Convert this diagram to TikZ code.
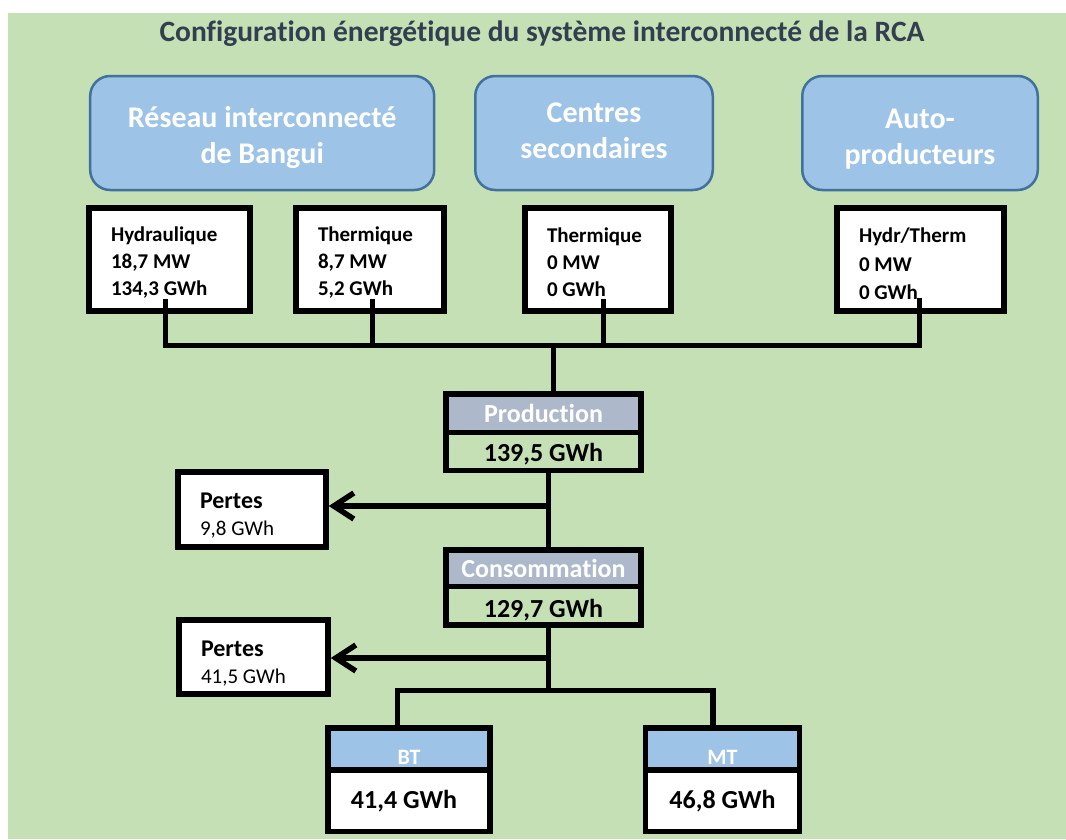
\documentclass[tikz,border=0pt]{standalone}
\usepackage{fontspec}
\setmainfont{Carlito}[Ligatures=NoCommon]
\usetikzlibrary{arrows.meta}
\definecolor{bg}{HTML}{C5E0B4}
\definecolor{titlecol}{HTML}{333F50}
\definecolor{bfill}{HTML}{9DC3E6}
\definecolor{bbord}{HTML}{41719C}
\definecolor{prodfill}{HTML}{ADB9CA}
\newcommand{\lowr}[2]{\raisebox{-#1}[\height][\depth]{#2}}
\begin{document}
\begin{tikzpicture}[x=1pt,y=-1pt,
  blubox/.style={draw=bbord, line width=2.5pt, fill=bfill, rounded corners=20pt,
    text=white, font=\fontsize{30}{37}\selectfont\bfseries, align=center,
    inner sep=0pt, minimum height=114pt},
  wbox/.style={draw, line width=5.5pt, fill=white,
    font=\fontsize{21}{27}\selectfont\bfseries, inner xsep=22pt, inner ysep=0pt,
    minimum height=103pt},
  hdr/.style={draw, line width=5.5pt, inner sep=0pt, text=white,
    font=\fontsize{26}{30}\selectfont\bfseries},
  val/.style={draw, line width=5.5pt, inner sep=0pt,
    font=\fontsize{26}{30}\selectfont\bfseries},
  pbox/.style={draw, line width=5.5pt, fill=white,
    font=\fontsize{21}{27}\selectfont, inner xsep=22pt, inner ysep=0pt},
  conn/.style={line width=5.5pt},
  arr/.style={conn, -{Straight Barb[length=20pt,width=26pt]}}
]
\useasboundingbox (0,0) rectangle (1066,839);
\fill[bg] (8,13) rectangle (1066,839);

\node[font=\fontsize{29.5}{34}\selectfont\bfseries, text=titlecol] (title) at (542,34)
  {Configuration énergétique du système interconnecté de la RCA};

% top category boxes (rounded)
\node[blubox, minimum width=344pt] (rib) at (262.2,133) {\lowr{5pt}{\begin{tabular}{@{}c@{}}Réseau interconnecté\\[-0.5pt]de Bangui\end{tabular}}};
\node[blubox, minimum width=237.5pt] (cs) at (594,133) {\begin{tabular}{@{}c@{}}Centres\\[-0.5pt]secondaires\end{tabular}};
\node[blubox, minimum width=235.5pt] (ap) at (920,133) {\lowr{6pt}{\begin{tabular}{@{}c@{}}Auto-\\[-0.5pt]producteurs\end{tabular}}};

% production units
\node[wbox, minimum width=161pt] (hyd) at (169.5,259.5)
  {\lowr{3pt}{\parbox{117pt}{Hydraulique\\18,7 MW\\134,3 GWh}}};
\node[wbox, minimum width=148pt] (th1) at (370,259.5)
  {\lowr{3pt}{\parbox{104pt}{Thermique\\8,7 MW\\5,2 GWh}}};
\node[wbox, minimum width=146pt] (th2) at (598,259.5)
  {\lowr{2.5pt}{\parbox{102pt}{Thermique\\0 MW\\0 GWh}}};
\node[wbox, minimum width=167pt, font=\fontsize{21}{28.5}\selectfont\bfseries] (ht) at (920.5,259.5)
  {\lowr{4.5pt}{\parbox{123pt}{Hydr/Therm\\0 MW\\0 GWh}}};

% Production / Consommation
\node[hdr, fill=prodfill, minimum width=195pt, minimum height=38.5pt] (prodh) at (543.5,413.25) {Production};
\node[val, minimum width=195pt, minimum height=38pt] (prodv) at (543.5,451.5) {\lowr{3pt}{139,5 GWh}};
\node[hdr, fill=prodfill, minimum width=195pt, minimum height=36.5pt] (consh) at (543.5,568.25) {Consommation};
\node[val, minimum width=195pt, minimum height=38.5pt] (consv) at (543.5,605.75) {\lowr{4pt}{129,7 GWh}};

% losses
\node[pbox, minimum width=148pt, minimum height=75pt] (per1) at (252,509.5)
  {\lowr{6pt}{\parbox{104pt}{{\fontsize{24}{27}\selectfont\bfseries Pertes}\\9,8 GWh}}};
\node[pbox, minimum width=149pt, minimum height=74pt] (per2) at (253.5,657)
  {\lowr{7pt}{\parbox{105pt}{{\fontsize{24}{27}\selectfont\bfseries Pertes}\\41,5 GWh}}};

% BT / MT
\node[hdr, fill=bfill, minimum width=162pt, minimum height=42pt, font=\fontsize{22}{26}\selectfont\bfseries] (bth) at (409,749) {\raisebox{-15pt}[0pt][0pt]{BT}};
\node[val, fill=white, minimum width=162pt, minimum height=61.5pt] (btv) at (409,800.75) {\hspace*{-10pt}41,4 GWh};
\node[hdr, fill=bfill, minimum width=154pt, minimum height=42pt, font=\fontsize{22}{26}\selectfont\bfseries] (mth) at (722.5,749) {\raisebox{-15pt}[0pt][0pt]{MT}};
\node[val, fill=white, minimum width=154pt, minimum height=61.5pt] (mtv) at (722.5,800.75) {46,8 GWh};

% upper bus
\coordinate (t1) at (165.5,299);
\coordinate (t2) at (372.5,299);
\coordinate (t3) at (603.5,299);
\coordinate (t4) at (919.5,298);
\coordinate (busL) at (165.5,345.5);
\coordinate (busR) at (919.5,345.5);
\coordinate (busP) at (553.5,345.5);
\draw[conn] (t1) -- (busL) -- (busR) -- (t4);
\draw[conn] (t2) -- (t2 |- busL);
\draw[conn] (t3) -- (t3 |- busL);
\draw[conn] (busP) -- (busP |- prodh.north);

% middle trunk
\coordinate (cx) at (548.5,0);
\draw[conn] (prodv.south -| cx) -- (consh.north -| cx);
\coordinate (a1) at (548.5,506);
\draw[arr] (a1) -- (a1 -| per1.east);

% lower bus
\coordinate (b0) at (548.5,690.5);
\coordinate (bl) at (397.5,690.5);
\coordinate (br) at (713,690.5);
\draw[conn] (consv.south -| cx) -- (b0);
\coordinate (a2) at (548.5,658);
\draw[arr] (a2) -- (a2 -| per2.east);
\draw[conn] (bth.north -| bl) -- (bl) -- (br) -- (mth.north -| br);
\end{tikzpicture}
\end{document}
